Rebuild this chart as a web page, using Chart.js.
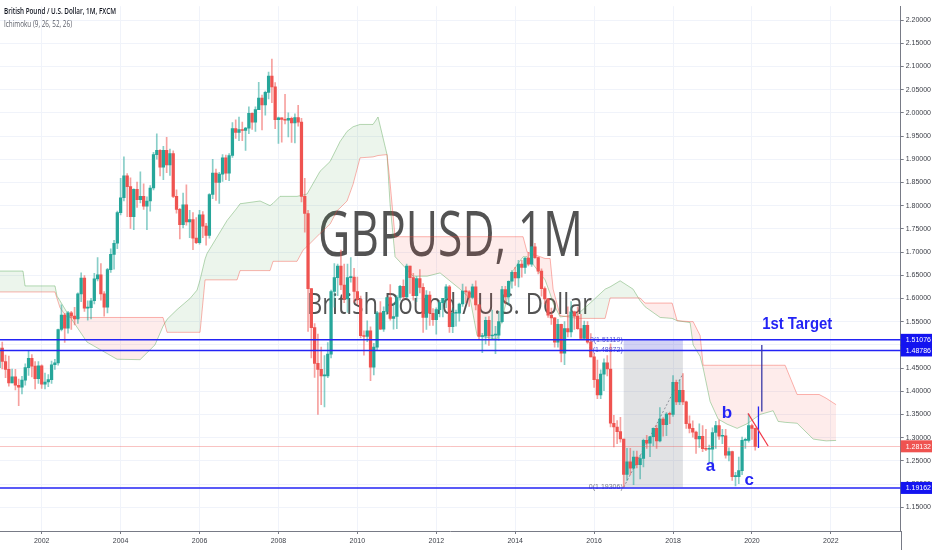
<!DOCTYPE html>
<html>
<head>
<meta charset="utf-8">
<script src="https://cdn.jsdelivr.net/npm/chart.js@4.4.1/dist/chart.umd.min.js"></script>
<style>
html, body { margin: 0; padding: 0; background: #fff; }
#wrap { width: 932px; height: 550px; position: relative; }
</style>
</head>
<body>
<div id="wrap"><canvas id="chart"></canvas></div>
<script>
// GBPUSD monthly candles, Dec 2000 .. Feb 2020
const months = [
    "2000-12",
    "2001-01","2001-02","2001-03","2001-04","2001-05","2001-06","2001-07","2001-08","2001-09","2001-10","2001-11","2001-12",
    "2002-01","2002-02","2002-03","2002-04","2002-05","2002-06","2002-07","2002-08","2002-09","2002-10","2002-11","2002-12",
    "2003-01","2003-02","2003-03","2003-04","2003-05","2003-06","2003-07","2003-08","2003-09","2003-10","2003-11","2003-12",
    "2004-01","2004-02","2004-03","2004-04","2004-05","2004-06","2004-07","2004-08","2004-09","2004-10","2004-11","2004-12",
    "2005-01","2005-02","2005-03","2005-04","2005-05","2005-06","2005-07","2005-08","2005-09","2005-10","2005-11","2005-12",
    "2006-01","2006-02","2006-03","2006-04","2006-05","2006-06","2006-07","2006-08","2006-09","2006-10","2006-11","2006-12",
    "2007-01","2007-02","2007-03","2007-04","2007-05","2007-06","2007-07","2007-08","2007-09","2007-10","2007-11","2007-12",
    "2008-01","2008-02","2008-03","2008-04","2008-05","2008-06","2008-07","2008-08","2008-09","2008-10","2008-11","2008-12",
    "2009-01","2009-02","2009-03","2009-04","2009-05","2009-06","2009-07","2009-08","2009-09","2009-10","2009-11","2009-12",
    "2010-01","2010-02","2010-03","2010-04","2010-05","2010-06","2010-07","2010-08","2010-09","2010-10","2010-11","2010-12",
    "2011-01","2011-02","2011-03","2011-04","2011-05","2011-06","2011-07","2011-08","2011-09","2011-10","2011-11","2011-12",
    "2012-01","2012-02","2012-03","2012-04","2012-05","2012-06","2012-07","2012-08","2012-09","2012-10","2012-11","2012-12",
    "2013-01","2013-02","2013-03","2013-04","2013-05","2013-06","2013-07","2013-08","2013-09","2013-10","2013-11","2013-12",
    "2014-01","2014-02","2014-03","2014-04","2014-05","2014-06","2014-07","2014-08","2014-09","2014-10","2014-11","2014-12",
    "2015-01","2015-02","2015-03","2015-04","2015-05","2015-06","2015-07","2015-08","2015-09","2015-10","2015-11","2015-12",
    "2016-01","2016-02","2016-03","2016-04","2016-05","2016-06","2016-07","2016-08","2016-09","2016-10","2016-11","2016-12",
    "2017-01","2017-02","2017-03","2017-04","2017-05","2017-06","2017-07","2017-08","2017-09","2017-10","2017-11","2017-12",
    "2018-01","2018-02","2018-03","2018-04","2018-05","2018-06","2018-07","2018-08","2018-09","2018-10","2018-11","2018-12",
    "2019-01","2019-02","2019-03","2019-04","2019-05","2019-06","2019-07","2019-08","2019-09","2019-10","2019-11","2019-12",
    "2020-01","2020-02"
];

const opens = [
    1.4510,
    1.4930,1.4640,1.4470,1.4180,1.4310,1.4130,1.4090,1.4240,1.4510,1.4710,1.4540,1.4270,
    1.4550,1.4150,1.4200,1.4250,1.4570,1.4610,1.5330,1.5640,1.5360,1.5690,1.5620,1.5560,
    1.6100,1.6440,1.5790,1.5800,1.5950,1.6420,1.6510,1.6100,1.5810,1.6620,1.6950,1.7190,
    1.7850,1.8170,1.8640,1.8410,1.7760,1.8350,1.8130,1.8200,1.7990,1.8100,1.8380,1.9100,
    1.9190,1.8830,1.9190,1.8880,1.9120,1.8200,1.7920,1.7590,1.8020,1.7650,1.7700,1.7300,
    1.7200,1.7800,1.7560,1.7360,1.8240,1.8700,1.8500,1.8680,1.9030,1.8700,1.9080,1.9660,
    1.9580,1.9640,1.9620,1.9670,1.9990,1.9800,2.0070,2.0320,2.0170,2.0440,2.0790,2.0560,
    1.9850,1.9890,1.9860,1.9840,1.9880,1.9780,1.9900,1.9800,1.8200,1.7830,1.6210,1.5370,
    1.4600,1.4470,1.4330,1.4330,1.4800,1.6150,1.6450,1.6700,1.6290,1.5990,1.6450,1.6460,
    1.6150,1.5980,1.5200,1.5180,1.5300,1.4520,1.4950,1.5690,1.5340,1.5720,1.6020,1.5570,
    1.5610,1.6020,1.6260,1.6030,1.6700,1.6450,1.6060,1.6430,1.6240,1.5590,1.6070,1.5680,
    1.5540,1.5760,1.5910,1.6000,1.6250,1.5390,1.5680,1.5680,1.5880,1.6160,1.6140,1.6020,
    1.6250,1.5860,1.5180,1.5190,1.5530,1.5190,1.5210,1.5210,1.5500,1.6190,1.6030,1.6370,
    1.6560,1.6440,1.6740,1.6670,1.6870,1.6740,1.7110,1.6880,1.6590,1.6210,1.5990,1.5640,
    1.5580,1.5060,1.5440,1.4820,1.5350,1.5280,1.5710,1.5620,1.5350,1.5140,1.5420,1.5060,
    1.4740,1.4250,1.3920,1.4370,1.4610,1.4480,1.3310,1.3230,1.3130,1.2970,1.2210,1.2480,
    1.2340,1.2580,1.2420,1.2550,1.2940,1.2880,1.3020,1.3200,1.2930,1.3400,1.3280,1.3510,
    1.3500,1.4190,1.3770,1.4020,1.3770,1.3300,1.3200,1.3120,1.2970,1.3030,1.2760,1.2750,
    1.2750,1.3110,1.3260,1.3030,1.3040,1.2620,1.2700,1.2160,1.2160,1.2290,1.2940,1.2940,
    1.3260,1.3200
];

const highs = [
    1.4960,
    1.5060,1.4780,1.4760,1.4480,1.4470,1.4260,1.4320,1.4590,1.4870,1.4790,1.4640,1.4640,
    1.4570,1.4390,1.4360,1.4650,1.4690,1.5340,1.5860,1.5680,1.5720,1.5720,1.5810,1.6120,
    1.6550,1.6490,1.5950,1.6000,1.6540,1.6880,1.6750,1.6150,1.6650,1.7070,1.7250,1.7880,
    1.8590,1.9050,1.8690,1.8600,1.8360,1.8510,1.8730,1.8470,1.8190,1.8430,1.9150,1.9550,
    1.9210,1.9280,1.9470,1.9220,1.9180,1.8340,1.7940,1.8270,1.8450,1.7900,1.7850,1.7740,
    1.7900,1.7870,1.7620,1.8260,1.9000,1.8790,1.8720,1.9100,1.9090,1.9120,1.9790,1.9850,
    1.9910,1.9800,1.9690,2.0130,2.0000,2.0130,2.0660,2.0380,2.0470,2.0880,2.1160,2.0650,
    1.9910,1.9890,2.0400,2.0000,1.9910,1.9980,2.0160,1.9880,1.8590,1.7900,1.6210,1.5460,
    1.5230,1.4950,1.4770,1.5050,1.6180,1.6750,1.6740,1.7040,1.6740,1.6740,1.6880,1.6650,
    1.6460,1.6050,1.5300,1.5520,1.5390,1.5030,1.5720,1.5930,1.5820,1.6010,1.6300,1.5900,
    1.6060,1.6280,1.6400,1.6740,1.6700,1.6540,1.6470,1.6620,1.6320,1.6170,1.6150,1.5780,
    1.5800,1.5960,1.6000,1.6300,1.6280,1.5780,1.5750,1.5900,1.6310,1.6250,1.6170,1.6310,
    1.6380,1.5870,1.5250,1.5600,1.5610,1.5750,1.5400,1.5720,1.6260,1.6260,1.6380,1.6600,
    1.6670,1.6820,1.6820,1.6880,1.6990,1.7120,1.7190,1.6890,1.6640,1.6250,1.6000,1.5790,
    1.5590,1.5550,1.5450,1.5500,1.5820,1.5930,1.5730,1.5820,1.5660,1.5510,1.5500,1.5240,
    1.4810,1.4670,1.4460,1.4700,1.4770,1.5020,1.3480,1.3370,1.3440,1.2970,1.2770,1.2770,
    1.2710,1.2710,1.2620,1.2970,1.3050,1.3030,1.3210,1.3270,1.3650,1.3430,1.3540,1.3550,
    1.4340,1.4240,1.4240,1.4380,1.3790,1.3470,1.3360,1.3140,1.3300,1.3260,1.3180,1.2840,
    1.3210,1.3350,1.3380,1.3180,1.3180,1.2780,1.2710,1.2250,1.2580,1.3010,1.2990,1.3510,
    1.3290,1.3210
];

const lows = [
    1.4400,
    1.4480,1.4290,1.4110,1.4180,1.4030,1.3690,1.3940,1.4130,1.4340,1.4310,1.4050,1.4170,
    1.4060,1.4050,1.4100,1.4170,1.4470,1.4560,1.5300,1.5050,1.5250,1.5330,1.5430,1.5460,
    1.5930,1.5720,1.5530,1.5560,1.5880,1.6380,1.5960,1.5620,1.5690,1.6560,1.6630,1.7070,
    1.7800,1.8100,1.7760,1.7510,1.7480,1.7960,1.8060,1.7920,1.7480,1.7880,1.8340,1.9000,
    1.8640,1.8560,1.8710,1.8650,1.8170,1.7840,1.7280,1.7520,1.7580,1.7310,1.7050,1.7180,
    1.7170,1.7310,1.7150,1.7300,1.8150,1.8110,1.8050,1.8520,1.8560,1.8540,1.9040,1.9450,
    1.9400,1.9400,1.9190,1.9550,1.9640,1.9600,2.0070,1.9630,1.9950,2.0300,2.0220,1.9660,
    1.9340,1.9370,1.9760,1.9480,1.9360,1.9350,1.9710,1.8080,1.7430,1.5290,1.4720,1.4300,
    1.3500,1.3710,1.3660,1.4290,1.4720,1.5810,1.6060,1.6190,1.5910,1.5700,1.6350,1.5920,
    1.5870,1.5150,1.4780,1.5070,1.4230,1.4350,1.4880,1.5330,1.5290,1.5650,1.5530,1.5340,
    1.5350,1.5960,1.5980,1.6010,1.6110,1.5960,1.5930,1.6120,1.5270,1.5330,1.5420,1.5420,
    1.5230,1.5600,1.5600,1.5800,1.5270,1.5260,1.5400,1.5510,1.5830,1.5910,1.5830,1.5990,
    1.5750,1.5120,1.4830,1.5020,1.4990,1.5120,1.4810,1.5100,1.5470,1.5890,1.5860,1.6220,
    1.6280,1.6250,1.6460,1.6540,1.6700,1.6690,1.6860,1.6530,1.6050,1.5880,1.5590,1.5440,
    1.4950,1.4950,1.4630,1.4570,1.5170,1.5170,1.5330,1.5330,1.5110,1.5110,1.5030,1.4740,
    1.4080,1.3840,1.3840,1.4010,1.4330,1.3230,1.2800,1.2870,1.2900,1.1931,1.2080,1.2200,
    1.1986,1.2350,1.2110,1.2370,1.2770,1.2590,1.2820,1.2770,1.2910,1.3030,1.3040,1.3300,
    1.3460,1.3710,1.3710,1.3710,1.3200,1.3100,1.3010,1.2660,1.2790,1.2700,1.2720,1.2470,
    1.2390,1.2770,1.2960,1.2870,1.2560,1.2500,1.2080,1.1960,1.2010,1.2200,1.2770,1.2900,
    1.2960,1.2730
];

const closes = [
    1.4930,
    1.4640,1.4470,1.4180,1.4310,1.4130,1.4090,1.4240,1.4510,1.4710,1.4540,1.4270,1.4550,
    1.4150,1.4200,1.4250,1.4570,1.4610,1.5330,1.5640,1.5360,1.5690,1.5620,1.5560,1.6100,
    1.6440,1.5790,1.5800,1.5950,1.6420,1.6510,1.6100,1.5810,1.6620,1.6950,1.7190,1.7850,
    1.8170,1.8640,1.8410,1.7760,1.8350,1.8130,1.8200,1.7990,1.8100,1.8380,1.9100,1.9190,
    1.8830,1.9190,1.8880,1.9120,1.8200,1.7920,1.7590,1.8020,1.7650,1.7700,1.7300,1.7200,
    1.7800,1.7560,1.7360,1.8240,1.8700,1.8500,1.8680,1.9030,1.8700,1.9080,1.9660,1.9580,
    1.9640,1.9620,1.9670,1.9990,1.9800,2.0070,2.0320,2.0170,2.0440,2.0790,2.0560,1.9850,
    1.9890,1.9860,1.9840,1.9880,1.9780,1.9900,1.9800,1.8200,1.7830,1.6210,1.5370,1.4600,
    1.4470,1.4330,1.4330,1.4800,1.6150,1.6450,1.6700,1.6290,1.5990,1.6450,1.6460,1.6150,
    1.5980,1.5200,1.5180,1.5300,1.4520,1.4950,1.5690,1.5340,1.5720,1.6020,1.5570,1.5610,
    1.6020,1.6260,1.6030,1.6700,1.6450,1.6060,1.6430,1.6240,1.5590,1.6070,1.5680,1.5540,
    1.5760,1.5910,1.6000,1.6250,1.5390,1.5680,1.5680,1.5880,1.6160,1.6140,1.6020,1.6250,
    1.5860,1.5180,1.5190,1.5530,1.5190,1.5210,1.5210,1.5500,1.6190,1.6030,1.6370,1.6560,
    1.6440,1.6740,1.6670,1.6870,1.6740,1.7110,1.6880,1.6590,1.6210,1.5990,1.5640,1.5580,
    1.5060,1.5440,1.4820,1.5350,1.5280,1.5710,1.5620,1.5350,1.5140,1.5420,1.5060,1.4740,
    1.4250,1.3920,1.4370,1.4610,1.4480,1.3310,1.3230,1.3130,1.2970,1.2210,1.2480,1.2340,
    1.2580,1.2420,1.2550,1.2940,1.2880,1.3020,1.3200,1.2930,1.3400,1.3280,1.3510,1.3500,
    1.4190,1.3770,1.4020,1.3770,1.3300,1.3200,1.3120,1.2970,1.3030,1.2760,1.2750,1.2750,
    1.3110,1.3260,1.3030,1.3040,1.2620,1.2700,1.2160,1.2160,1.2290,1.2940,1.2940,1.3260,
    1.3200,1.2813
];

// Ichimoku cloud (leading spans)
const cloudTimes = [
    2000.943, 2001.526, 2001.577, 2002.337, 2002.388, 2002.464, 2002.641, 2003.148, 2003.909, 2004.492,
    2004.872, 2005.075, 2005.176, 2005.430, 2005.760, 2005.937, 2006.013, 2006.140, 2006.191, 2006.698,
    2006.951, 2007.027, 2007.534, 2007.787, 2007.863, 2008.040, 2008.471, 2008.623, 2008.725, 2009.054,
    2009.308, 2009.485, 2009.561, 2009.739, 2009.891, 2010.068, 2010.397, 2010.524, 2010.752, 2010.828,
    2010.955, 2011.411, 2011.766, 2012.096, 2012.603, 2012.856, 2013.034, 2013.541, 2013.794, 2013.947,
    2014.200, 2014.302, 2014.758, 2014.885, 2014.961, 2015.139, 2015.569, 2015.899, 2016.279, 2016.406,
    2016.659, 2016.988, 2017.166, 2017.292, 2017.673, 2017.977, 2018.104, 2018.433, 2018.509, 2018.687,
    2018.763, 2018.940, 2019.143, 2019.371, 2019.625, 2019.878, 2020.208, 2020.537, 2020.664, 2020.841,
    2021.145, 2021.551, 2021.703, 2021.880, 2022.133
];
const leadA = [
    1.659, 1.659, 1.627, 1.627, 1.605, 1.595, 1.570, 1.506, 1.469, 1.468,
    1.500, 1.540, 1.555, 1.576, 1.600, 1.618, 1.640, 1.685, 1.697, 1.768,
    1.795, 1.804, 1.810, 1.800, 1.805, 1.820, 1.820, 1.823, 1.825, 1.874,
    1.895, 1.925, 1.938, 1.960, 1.970, 1.975, 1.975, 1.991, 1.910, 1.804,
    1.690, 1.648, 1.648, 1.655, 1.620, 1.600, 1.520, 1.512, 1.600, 1.660,
    1.690, 1.690, 1.640, 1.610, 1.590, 1.560, 1.565, 1.590, 1.620, 1.625,
    1.638, 1.620, 1.595, 1.582, 1.559, 1.557, 1.552, 1.548, 1.500, 1.475,
    1.450, 1.378, 1.340, 1.329, 1.320, 1.330, 1.350, 1.358, 1.335, 1.333,
    1.331, 1.297, 1.295, 1.293, 1.294
];
const leadB = [
    1.614, 1.614, 1.614, 1.614, 1.600, 1.580, 1.559, 1.559, 1.559, 1.559,
    1.559, 1.559, 1.527, 1.527, 1.527, 1.527, 1.527, 1.640, 1.640, 1.640,
    1.640, 1.660, 1.660, 1.660, 1.680, 1.680, 1.680, 1.704, 1.712, 1.740,
    1.760, 1.789, 1.795, 1.810, 1.846, 1.903, 1.905, 1.908, 1.910, 1.850,
    1.733, 1.733, 1.733, 1.733, 1.733, 1.733, 1.733, 1.733, 1.733, 1.733,
    1.733, 1.700, 1.686, 1.686, 1.620, 1.563, 1.557, 1.557, 1.557, 1.601,
    1.601, 1.601, 1.601, 1.590, 1.590, 1.590, 1.552, 1.550, 1.550, 1.520,
    1.456, 1.456, 1.456, 1.456, 1.456, 1.456, 1.456, 1.456, 1.456, 1.456,
    1.393, 1.393, 1.393, 1.385, 1.371
];

const yearTicks = [2002, 2004, 2006, 2008, 2010, 2012, 2014, 2016, 2018, 2020, 2022];
const priceTicks = [1.15, 1.20, 1.25, 1.30, 1.35, 1.40, 1.45, 1.50, 1.55, 1.60, 1.65, 1.70,
    1.75, 1.80, 1.85, 1.90, 1.95, 2.00, 2.05, 2.10, 2.15, 2.20];

// drawings on the chart
const blueLevels = [1.51076, 1.48786, 1.19162];
const lastPrice = 1.28132;
const fibStart = "2016-10", fibEnd = "2018-04";
const fibLevels = [1.19306, 1.48872, 1.51119];
const fibNames = ["0", "2", "3"];
const fibTrend = [1.19306, 1.4377];
const waveLabels = [
    { text: "a", t: 2018.831, p: 1.2288 },
    { text: "b", t: 2019.237, p: 1.3423 },
    { text: "c", t: 2019.810, p: 1.1989 }
];
const target = { text: "1st Target", t: 2020.26, p: 1.5333 };
const targetLine = { t: 2020.25, from: 1.3566, to: 1.4999 };
const entryLine = { t: 2020.165, from: 1.2778, to: 1.3672 };
const trendLine = [{ t: 2019.90, p: 1.3523 }, { t: 2020.41, p: 1.2820 }];

const xMin = 2000.943, xMax = 2023.77;
const yMin = 1.0988, yMax = 2.2298;

const UP = "#26a69a";
const DOWN = "#ef5350";
const BLUE = "#2323f5";

function toTime(m) {
    return parseInt(m.slice(0, 4)) + (parseInt(m.slice(5, 7)) - 1) / 12;
}

const times = months.map(toTime);
const isUp = closes.map((c, i) => c >= opens[i]);

function fitText(ctx, text, x, y, width, font, color) {
    ctx.save();
    ctx.font = font;
    ctx.fillStyle = color;
    ctx.textBaseline = "alphabetic";
    ctx.textAlign = "left";
    const w = ctx.measureText(text).width;
    ctx.translate(x, y);
    ctx.scale(width / w, 1);
    ctx.fillText(text, 0, 0);
    ctx.restore();
}

function axisBox(ctx, area, y, text, fill) {
    ctx.fillStyle = fill;
    ctx.fillRect(area.right, y - 6, 932 - area.right, 12);
    ctx.fillStyle = "#ffffff";
    ctx.font = "7px 'Liberation Sans'";
    ctx.textBaseline = "middle";
    ctx.textAlign = "left";
    ctx.fillText(text, area.right + 5, y + 0.5);
}

const drawings = {
    id: "drawings",
    beforeDatasetsDraw(chart) {
        const ctx = chart.ctx;
        const xs = chart.scales.x, ys = chart.scales.y;

        // watermark
        fitText(ctx, "GBPUSD, 1M", 318, 256, 265, "62px 'Open Sans'", "rgba(68,68,68,0.92)");
        fitText(ctx, "British Pound / U.S. Dollar", 307, 314, 285, "29px 'Open Sans'", "rgba(68,68,68,0.92)");

        // fib box
        const x0 = xs.getPixelForValue(toTime(fibStart));
        const x1 = xs.getPixelForValue(toTime(fibEnd));
        const yl0 = ys.getPixelForValue(fibLevels[0]);
        const yl2 = ys.getPixelForValue(fibLevels[1]);
        const yl3 = ys.getPixelForValue(fibLevels[2]);
        ctx.fillStyle = "rgba(120,123,134,0.22)";
        ctx.fillRect(x0, yl2, x1 - x0, yl0 - yl2);
        ctx.fillStyle = "rgba(92,92,214,0.28)";
        ctx.fillRect(x0, yl3, x1 - x0, yl2 - yl3);

        ctx.save();
        ctx.strokeStyle = "rgba(120,123,134,0.8)";
        ctx.lineWidth = 1;
        ctx.setLineDash([2, 2]);
        ctx.beginPath();
        ctx.moveTo(x0, ys.getPixelForValue(fibTrend[0]));
        ctx.lineTo(x1, ys.getPixelForValue(fibTrend[1]));
        ctx.stroke();
        ctx.restore();

        ctx.font = "7px 'Liberation Sans'";
        ctx.textAlign = "right";
        ctx.textBaseline = "middle";
        fibLevels.forEach((lv, i) => {
            ctx.fillStyle = i === 0 ? "#787b86" : "#5b5bd0";
            ctx.fillText(fibNames[i] + "(" + lv.toFixed(5) + ")", x0 - 1, ys.getPixelForValue(lv));
        });
    },
    afterDatasetsDraw(chart) {
        const ctx = chart.ctx;
        const area = chart.chartArea;
        const xs = chart.scales.x, ys = chart.scales.y;

        // last price line
        const yp = ys.getPixelForValue(lastPrice);
        ctx.strokeStyle = "rgba(239,83,80,0.35)";
        ctx.lineWidth = 1;
        ctx.beginPath();
        ctx.moveTo(area.left, Math.round(yp) + 0.5);
        ctx.lineTo(area.right, Math.round(yp) + 0.5);
        ctx.stroke();

        // horizontal levels
        ctx.strokeStyle = BLUE;
        ctx.lineWidth = 1.5;
        blueLevels.forEach(lv => {
            const y = ys.getPixelForValue(lv);
            ctx.beginPath();
            ctx.moveTo(area.left, y);
            ctx.lineTo(area.right, y);
            ctx.stroke();
        });

        // vertical lines and trend line
        ctx.strokeStyle = "#3a3aa8";
        ctx.lineWidth = 1.3;
        ctx.beginPath();
        ctx.moveTo(xs.getPixelForValue(targetLine.t), ys.getPixelForValue(targetLine.from));
        ctx.lineTo(xs.getPixelForValue(targetLine.t), ys.getPixelForValue(targetLine.to));
        ctx.stroke();
        ctx.strokeStyle = BLUE;
        ctx.beginPath();
        ctx.moveTo(xs.getPixelForValue(entryLine.t), ys.getPixelForValue(entryLine.from));
        ctx.lineTo(xs.getPixelForValue(entryLine.t), ys.getPixelForValue(entryLine.to));
        ctx.stroke();
        ctx.strokeStyle = "#f23645";
        ctx.lineWidth = 1.2;
        ctx.beginPath();
        ctx.moveTo(xs.getPixelForValue(trendLine[0].t), ys.getPixelForValue(trendLine[0].p));
        ctx.lineTo(xs.getPixelForValue(trendLine[1].t), ys.getPixelForValue(trendLine[1].p));
        ctx.stroke();

        // wave labels
        waveLabels.forEach(w => {
            ctx.font = "bold 17px 'Liberation Sans'";
            ctx.fillStyle = BLUE;
            ctx.textAlign = "left";
            ctx.textBaseline = "alphabetic";
            ctx.fillText(w.text, xs.getPixelForValue(w.t), ys.getPixelForValue(w.p));
        });
        fitText(ctx, target.text, xs.getPixelForValue(target.t), ys.getPixelForValue(target.p), 70,
            "bold 16px 'Liberation Sans'", BLUE);
    },
    afterDraw(chart) {
        const ctx = chart.ctx;
        const area = chart.chartArea;
        const ys = chart.scales.y;

        // axis line down through the time scale
        ctx.strokeStyle = "#787b86";
        ctx.lineWidth = 1;
        ctx.beginPath();
        ctx.moveTo(Math.round(area.right) + 0.5, area.bottom);
        ctx.lineTo(Math.round(area.right) + 0.5, 550);
        ctx.stroke();

        blueLevels.forEach(lv => {
            axisBox(ctx, area, ys.getPixelForValue(lv), lv.toFixed(5), "#1414f0");
        });
        axisBox(ctx, area, ys.getPixelForValue(lastPrice), lastPrice.toFixed(5), DOWN);

        // legend text
        fitText(ctx, "British Pound / U.S. Dollar, 1M, FXCM", 4, 14, 112, "600 9px 'Open Sans'", "#131722");
        fitText(ctx, "Ichimoku (9, 26, 52, 26)", 4, 26.5, 68, "9px 'Open Sans'", "#5d606b");
    }
};

new Chart(document.getElementById("chart"), {
    type: "bar",
    data: {
        datasets: [
            {
                type: "line",
                label: "Lead 1",
                data: cloudTimes.map((t, i) => ({ x: t, y: leadA[i] })),
                borderColor: "rgba(67,160,71,0.4)",
                borderWidth: 1,
                pointRadius: 0,
                tension: 0,
                fill: false,
                order: 4
            },
            {
                type: "line",
                label: "Lead 2",
                data: cloudTimes.map((t, i) => ({ x: t, y: leadB[i] })),
                borderColor: "rgba(244,67,54,0.4)",
                borderWidth: 1,
                pointRadius: 0,
                tension: 0,
                fill: { target: 0, above: "rgba(244,67,54,0.1)", below: "rgba(67,160,71,0.1)" },
                order: 3
            },
            {
                label: "Wicks",
                data: times.map((t, i) => ({ x: t, y: [lows[i], highs[i]] })),
                backgroundColor: isUp.map(u => u ? "rgba(38,166,154,0.55)" : "rgba(239,83,80,0.55)"),
                barThickness: 1,
                grouped: false,
                order: 2
            },
            {
                label: "Bodies",
                data: times.map((t, i) => ({ x: t, y: [opens[i], closes[i]] })),
                backgroundColor: isUp.map(u => u ? UP : DOWN),
                barThickness: 2.6,
                minBarLength: 1,
                grouped: false,
                order: 1
            }
        ]
    },
    options: {
        responsive: true,
        maintainAspectRatio: false,
        animation: false,
        layout: { padding: 0 },
        plugins: {
            legend: { display: false },
            tooltip: { enabled: false }
        },
        scales: {
            x: {
                type: "linear",
                min: xMin,
                max: xMax,
                bounds: "data",
                offset: false,
                afterBuildTicks: s => { s.ticks = yearTicks.map(v => ({ value: v })); },
                afterFit: s => { s.height = 19; },
                grid: { color: "#f0f3fa", offset: false, tickLength: 3, tickColor: "#787b86" },
                border: { color: "#787b86" },
                ticks: {
                    color: "#3b3e47",
                    font: { family: "'Liberation Sans'", size: 7 },
                    maxRotation: 0,
                    autoSkip: false,
                    padding: 3,
                    callback: v => String(v)
                }
            },
            y: {
                position: "right",
                min: yMin,
                max: yMax,
                bounds: "data",
                afterBuildTicks: s => { s.ticks = priceTicks.map(v => ({ value: v })); },
                afterFit: s => { s.width = 31.3; },
                grid: { color: "#f0f3fa", tickLength: 3, tickColor: "#787b86" },
                border: { color: "#787b86" },
                ticks: {
                    color: "#3b3e47",
                    font: { family: "'Liberation Sans'", size: 7 },
                    autoSkip: false,
                    padding: 2,
                    callback: v => v.toFixed(5)
                }
            }
        }
    },
    plugins: [drawings]
});
</script>
</body>
</html>
